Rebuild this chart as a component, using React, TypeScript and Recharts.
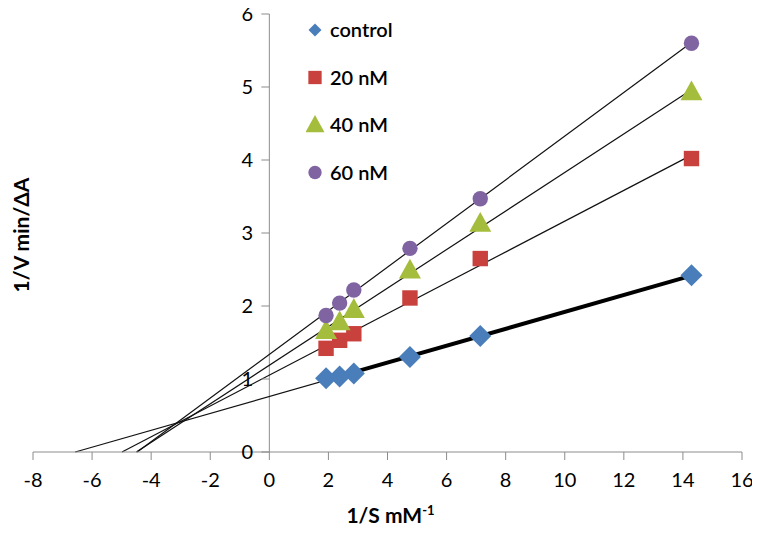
import {
  Legend,
  ReferenceDot,
  ReferenceLine,
  Scatter,
  ScatterChart,
  XAxis,
  YAxis,
} from "recharts";

// 1/S values (mM^-1) shared by every series
const invS = [1.92, 2.38, 2.86, 4.76, 7.14, 14.29];

// 1/V values (min/ΔA)
const controlV = [1.01, 1.035, 1.075, 1.3, 1.59, 2.42];
const nm20V = [1.42, 1.53, 1.62, 2.11, 2.65, 4.02];
const nm40V = [1.66, 1.78, 1.95, 2.49, 3.13, 4.93];
const nm60V = [1.87, 2.04, 2.22, 2.79, 3.47, 5.6];

const xTicks = [-8, -6, -4, -2, 0, 2, 4, 6, 8, 10, 12, 14, 16];
const yTicks = [0, 1, 2, 3, 4, 5, 6];

const FONT = "Lato, 'Open Sans', sans-serif";
const AXIS_GRAY = "#8c8c8c";

type Kind = "diamond" | "square" | "triangle" | "circle";

const series: { name: string; values: number[]; color: string; kind: Kind }[] = [
  { name: "control", values: controlV, color: "#4a7ebb", kind: "diamond" },
  { name: "20 nM", values: nm20V, color: "#c9413d", kind: "square" },
  { name: "40 nM", values: nm40V, color: "#a5bd3c", kind: "triangle" },
  { name: "60 nM", values: nm60V, color: "#8064a2", kind: "circle" },
];

// least squares line, like Excel's linear trendline
function fit(xs: number[], ys: number[]) {
  const n = xs.length;
  const mx = xs.reduce((a, b) => a + b, 0) / n;
  const my = ys.reduce((a, b) => a + b, 0) / n;
  let sxy = 0;
  let sxx = 0;
  xs.forEach((x, i) => {
    sxy += (x - mx) * (ys[i] - my);
    sxx += (x - mx) * (x - mx);
  });
  const slope = sxy / sxx;
  return { slope, intercept: my - slope * mx };
}

function marker(kind: Kind, cx: number, cy: number, color: string, s: number) {
  if (kind === "diamond") {
    return (
      <polygon
        points={`${cx},${cy - s} ${cx + s},${cy} ${cx},${cy + s} ${cx - s},${cy}`}
        fill={color}
      />
    );
  }
  if (kind === "square") {
    const h = s * 0.7;
    return <rect x={cx - h} y={cy - h} width={h * 2} height={h * 2} fill={color} />;
  }
  if (kind === "triangle") {
    return (
      <polygon
        points={`${cx},${cy - s * 1.05} ${cx + s},${cy + s * 0.75} ${cx - s},${cy + s * 0.75}`}
        fill={color}
      />
    );
  }
  return <circle cx={cx} cy={cy} r={s * 0.7} fill={color} />;
}

function LegendBox() {
  return (
    <svg width={150} height={180}>
      {series.map((s, i) => {
        const cy = 16 + i * 47.5;
        const size = s.kind === "diamond" ? 6.5 : 9.5;
        return (
          <g key={s.name}>
            {marker(s.kind, 9, cy, s.color, size)}
            <text
              x={24}
              y={cy + 7}
              fontSize={20}
              fontFamily={FONT}
              fontWeight={600}
              fill="#000"
            >
              {s.name}
            </text>
          </g>
        );
      })}
    </svg>
  );
}

export default function App() {
  return (
    <div>
      <style>{".recharts-surface{overflow:visible}"}</style>
      <ScatterChart
        width={744}
        height={519}
        margin={{ top: 6, right: 10, bottom: 35, left: 0 }}
      >
        <XAxis
          type="number"
          dataKey="x"
          domain={[-8, 16]}
          ticks={xTicks}
          allowDataOverflow
          stroke={AXIS_GRAY}
          tickSize={8}
          tickMargin={13}
          height={40}
          tick={{ fill: "#000", fontSize: 20, fontFamily: FONT }}
          label={(props: any) => {
            const vb = props.viewBox;
            return (
              <text
                x={vb.x + vb.width / 2 + 3}
                y={vb.y + 71}
                textAnchor="middle"
                fontSize={21}
                fontWeight={700}
                fontFamily={FONT}
                fill="#000"
              >
                1/S mM
                <tspan fontSize={13} dy={-8}>
                  -1
                </tspan>
              </text>
            );
          }}
        />
        <YAxis
          type="number"
          dataKey="y"
          domain={[0, 6]}
          ticks={yTicks}
          width={25}
          axisLine={false}
          tickLine={false}
          tick={false}
          label={(props: any) => {
            const vb = props.viewBox;
            const cx = vb.x + 12;
            const cy = vb.y + vb.height / 2 + 2;
            return (
              <text
                x={cx}
                y={cy}
                transform={`rotate(-90 ${cx} ${cy})`}
                textAnchor="middle"
                dominantBaseline="central"
                fontSize={21}
                fontWeight={700}
                fontFamily={FONT}
                fill="#000"
              >
                1/V min/ΔA
              </text>
            );
          }}
        />
        <ReferenceLine x={0} stroke={AXIS_GRAY} strokeWidth={1} ifOverflow="visible" />
        {yTicks.map((t) => (
          <ReferenceDot
            key={t}
            x={0}
            y={t}
            ifOverflow="visible"
            shape={(p: any) => (
              <g>
                <line x1={p.cx - 8} y1={p.cy} x2={p.cx} y2={p.cy} stroke={AXIS_GRAY} />
                <text
                  x={p.cx - 22}
                  y={p.cy + 7}
                  textAnchor="middle"
                  fontSize={20}
                  fontFamily={FONT}
                  fill="#000"
                >
                  {t}
                </text>
              </g>
            )}
          />
        ))}
        {series.map((s) => (
          <Scatter
            key={s.name}
            name={s.name}
            data={invS.map((x, i) => ({ x, y: s.values[i] }))}
            isAnimationActive={false}
            fill={s.color}
            shape={(p: any) => marker(s.kind, p.cx, p.cy, s.color, 11)}
          />
        ))}
        {series.map((s) => {
          const { slope, intercept } = fit(invS, s.values);
          const xEnd = invS[invS.length - 1];
          return (
            <ReferenceLine
              key={"t" + s.name}
              segment={[
                { x: -intercept / slope, y: 0 },
                { x: xEnd, y: intercept + slope * xEnd },
              ]}
              stroke="#111"
              strokeWidth={1.2}
              ifOverflow="visible"
            />
          );
        })}
        {(() => {
          const { slope, intercept } = fit(invS, controlV);
          const x0 = invS[0];
          const x1 = invS[invS.length - 1];
          return (
            <ReferenceLine
              segment={[
                { x: x0, y: intercept + slope * x0 },
                { x: x1, y: intercept + slope * x1 },
              ]}
              stroke="#000"
              strokeWidth={4}
              ifOverflow="visible"
            />
          );
        })()}
        <Legend
          layout="vertical"
          align="center"
          verticalAlign="middle"
          wrapperStyle={{ top: 6, left: 298, width: 150 }}
          content={() => <LegendBox />}
        />
      </ScatterChart>
    </div>
  );
}
